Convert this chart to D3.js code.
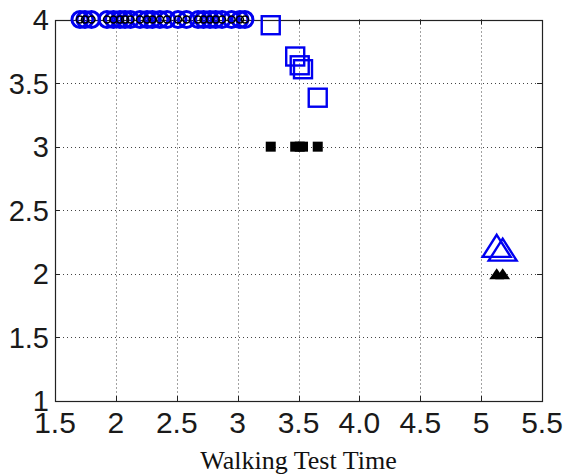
<!DOCTYPE html>
<html>
<head>
<meta charset="utf-8">
<script src="https://cdn.jsdelivr.net/npm/d3@7"></script>
<style>
  html, body { margin: 0; padding: 0; background: #fff; }
  svg { display: block; }
</style>
</head>
<body>
<svg id="chart" width="566" height="476"></svg>
<script>
// Walking test time vs. class score
const xTicks = [1.5, 2, 2.5, 3, 3.5, 4, 4.5, 5, 5.5];
const xTickLabels = ["1.5", "2", "2.5", "3", "3.5", "4.0", "4.5", "5", "5.5"];
const yTicks = [1, 1.5, 2, 2.5, 3, 3.5, 4];
const yTickLabels = ["1", "1.5", "2", "2.5", "3", "3.5", "4"];

// Class 4 group (circles): test time, predicted score, actual score
const class4Time = [1.705, 1.746, 1.80, 1.927, 1.98, 2.034, 2.075, 2.12, 2.198, 2.256, 2.30, 2.362, 2.42, 2.51, 2.58, 2.675, 2.72, 2.773, 2.82, 2.872, 2.95, 3.019, 3.06];
const class4Pred = [4, 4, 4, 4, 4, 4, 4, 4, 4, 4, 4, 4, 4, 4, 4, 4, 4, 4, 4, 4, 4, 4, 4];
const class4Actual = [4, 4, 4, 4, 4, 4, 4, 4, 4, 4, 4, 4, 4, 4, 4, 4, 4, 4, 4, 4, 4, 4, 4];

// Class 3 group (squares)
const class3Time = [3.272, 3.473, 3.51, 3.537, 3.658];
const class3Pred = [3.955, 3.709, 3.64, 3.609, 3.385];
const class3Actual = [3, 3, 3, 3, 3];

// Class 2 group (triangles)
const class2Time = [5.128, 5.177];
const class2Pred = [2.22, 2.19];
const class2Actual = [2, 2];

const xLabel = "Walking Test Time";

const svg = d3.select("#chart");
const pLeft = 55, pRight = 542, pTop = 19.5, pBottom = 401;

const x = d3.scaleLinear().domain([1.5, 5.5]).range([pLeft, pRight]);
const y = d3.scaleLinear().domain([1, 4]).range([pBottom, pTop]);

const blue = "#0000f0";

// grid
const grid = svg.append("g").attr("stroke", "#444").attr("stroke-width", 1)
  .attr("stroke-dasharray", "1,3").attr("fill", "none");
grid.selectAll("line.gx").data(xTicks.slice(1, -1)).join("line")
  .attr("x1", d => Math.round(x(d)) + 0.5).attr("x2", d => Math.round(x(d)) + 0.5)
  .attr("y1", pTop).attr("y2", pBottom);
grid.selectAll("line.gy").data(yTicks.slice(1, -1)).join("line")
  .attr("x1", pLeft).attr("x2", pRight)
  .attr("y1", d => Math.round(y(d)) + 0.5).attr("y2", d => Math.round(y(d)) + 0.5);

// inward tick marks on all sides
const ticks = svg.append("g").attr("stroke", "#222").attr("stroke-width", 1);
xTicks.slice(1, -1).forEach(d => {
  const px = Math.round(x(d)) + 0.5;
  ticks.append("line").attr("x1", px).attr("x2", px).attr("y1", pBottom).attr("y2", pBottom - 5);
  ticks.append("line").attr("x1", px).attr("x2", px).attr("y1", pTop).attr("y2", pTop + 5);
});
yTicks.slice(1, -1).forEach(d => {
  const py = Math.round(y(d)) + 0.5;
  ticks.append("line").attr("x1", pLeft).attr("x2", pLeft + 5).attr("y1", py).attr("y2", py);
  ticks.append("line").attr("x1", pRight).attr("x2", pRight - 5).attr("y1", py).attr("y2", py);
});

// axes frame
svg.append("rect")
  .attr("x", pLeft + 0.5).attr("y", Math.round(pTop) + 0.5)
  .attr("width", pRight - pLeft).attr("height", pBottom - Math.round(pTop))
  .attr("fill", "none").attr("stroke", "#222").attr("stroke-width", 1.2);

// tick labels
const font = "'Liberation Sans', Arial, Helvetica, sans-serif";
svg.append("g").selectAll("text").data(xTicks).join("text")
  .attr("x", d => x(d)).attr("y", 433)
  .attr("text-anchor", "middle")
  .attr("font-family", font).attr("font-size", 30).attr("fill", "#1a1a1a")
  .text((d, i) => xTickLabels[i]);
svg.append("g").selectAll("text").data(yTicks).join("text")
  .attr("x", 49).attr("y", d => y(d))
  .attr("dy", "0.36em")
  .attr("text-anchor", "end")
  .attr("font-family", font).attr("font-size", 29).attr("fill", "#1a1a1a")
  .text((d, i) => yTickLabels[i]);

// axis title
svg.append("text")
  .attr("x", (pLeft + pRight) / 2).attr("y", 469)
  .attr("text-anchor", "middle")
  .attr("font-family", "'Liberation Serif', 'Times New Roman', serif")
  .attr("font-size", 26).attr("fill", "#111")
  .text(xLabel);

const marks = svg.append("g");

// class 4: open blue circles with black rings at the actual score
marks.append("g").selectAll("circle").data(class4Time).join("circle")
  .attr("cx", d => x(d)).attr("cy", (d, i) => y(class4Pred[i]))
  .attr("r", 8).attr("fill", "none").attr("stroke", blue).attr("stroke-width", 3);
marks.append("g").selectAll("circle").data(class4Time).join("circle")
  .attr("cx", d => x(d)).attr("cy", (d, i) => y(class4Actual[i]))
  .attr("r", 3.5).attr("fill", "none").attr("stroke", "#000").attr("stroke-width", 1.5);

// class 3: open blue squares (predicted) and filled black squares (actual)
const bs = 18, ks = 10;
marks.append("g").selectAll("rect").data(class3Time).join("rect")
  .attr("x", d => x(d) - bs / 2).attr("y", (d, i) => y(class3Pred[i]) - bs / 2)
  .attr("width", bs).attr("height", bs)
  .attr("fill", "none").attr("stroke", blue).attr("stroke-width", 2.4);
marks.append("g").selectAll("rect").data(class3Time).join("rect")
  .attr("x", d => x(d) - ks / 2).attr("y", (d, i) => y(class3Actual[i]) - ks / 2)
  .attr("width", ks).attr("height", ks).attr("fill", "#000");

// class 2: open blue triangles (predicted) and filled black triangles (actual)
const tri = (cx, cy, w, h) =>
  `M${cx},${cy - h / 2}L${cx + w / 2},${cy + h / 2}L${cx - w / 2},${cy + h / 2}Z`;
marks.append("g").selectAll("path").data(class2Time).join("path")
  .attr("d", (d, i) => tri(x(d), y(class2Pred[i]), 28, 22))
  .attr("fill", "none").attr("stroke", blue).attr("stroke-width", 2.4)
  .attr("stroke-linejoin", "miter");
marks.append("g").selectAll("path").data(class2Time).join("path")
  .attr("d", (d, i) => tri(x(d), y(class2Actual[i]), 15, 11))
  .attr("fill", "#000");
</script>
</body>
</html>
